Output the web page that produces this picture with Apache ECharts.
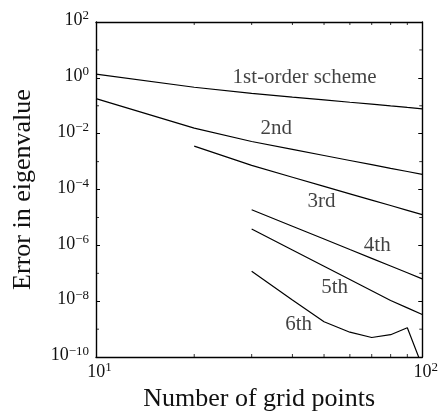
<!DOCTYPE html>
<html><head><meta charset="utf-8">
<script src="https://cdn.jsdelivr.net/npm/echarts@6/dist/echarts.min.js"></script>
<style>html,body{margin:0;padding:0;background:#fff}#c{width:441px;height:417px}</style>
</head><body><div id="c"></div>
<script>
// ---- data ----
const gridPoints = [10, 20, 30, 40, 50, 60, 70, 80, 90, 100];
const order1 = [1.35, 0.46, 0.28, 0.205, 0.163, 0.134, 0.114, 0.0985, 0.087, 0.078];
const order2 = [0.181, 0.0158, 0.00526, 0.00275, 0.00166, 0.00110, 0.000778, 0.000575, 0.000442, 0.000347];
const order3 = [null, 0.0036, 0.00073, 0.000276, 0.00013, 0.0000703, 0.000042, 0.0000268, 0.000018, 0.0000126];
const order4 = [null, null, 1.9e-5, 4.85e-6, 1.69e-6, 7.1e-7, 3.44e-7, 1.83e-7, 1.045e-7, 6.3e-8];
const order5 = [null, null, 3.87e-6, 6.86e-7, 1.79e-7, 5.97e-8, 2.36e-8, 1.06e-8, 5.8e-9, 3.35e-9];
const order6 = [null, null, 1.18e-7, 1.10e-8, 1.85e-9, 7.8e-10, 5.04e-10, 6.34e-10, 1.12e-9, 4.7e-11];
const curveLabels = ['1st-order scheme', '2nd', '3rd', '4th', '5th', '6th'];
const curveLabelN = [43.6, 35.7, 49.1, 72.8, 53.9, 41.8];
const curveLabelErr = [1.0, 0.0149, 3.76e-5, 9.8e-7, 3.0e-8, 1.47e-9];
const xMinorTicks = [20, 30, 40, 50, 60, 70, 80, 90];
const yMinorTicks = [1e1, 1e-1, 1e-3, 1e-5, 1e-7, 1e-9];
const xRange = [10, 100];
const yRange = [1e-10, 1e2];
const xTitle = 'Number of grid points';
const yTitle = 'Error in eigenvalue';

// ---- chart ----
const SERIF = 'Liberation Serif';
const TXT = '#111';
const rich = {
  b: { fontFamily: SERIF, fontSize: 18, lineHeight: 22, color: TXT },
  s: { fontFamily: SERIF, fontSize: 13, lineHeight: 10, verticalAlign: 'top', color: TXT }
};
function powLabel(v) {
  const e = Math.round(Math.log10(v));
  return '{b|10}{s|' + (e < 0 ? '\u2212' + (-e) : e) + '}';
}
function pairs(vals) {
  const out = [];
  gridPoints.forEach((n, i) => { if (vals[i] != null) out.push([n, vals[i]]); });
  return out;
}
const lineStyle = { color: '#000', width: 1.2 };
const curves = [order1, order2, order3, order4, order5, order6].map(v => ({
  type: 'line', data: pairs(v), symbol: 'none', lineStyle: lineStyle,
  clip: true, silent: true, animation: false
}));
const axisLine = { show: true, lineStyle: { color: '#000', width: 1.4 } };
const tickMaj = { show: true, inside: true, length: 4, lineStyle: { color: '#000', width: 1 } };
const labelBase = { fontFamily: SERIF, fontSize: 18, color: TXT, rich: rich, formatter: powLabel };

const option = {
  animation: false,
  backgroundColor: '#fff',
  grid: { left: 96, right: 14, top: 22, bottom: 59 },
  xAxis: [
    { type: 'log', logBase: 10, min: xRange[0], max: xRange[1], interval: 1, position: 'bottom',
      axisLine: axisLine, axisTick: tickMaj, splitLine: { show: false }, minorTick: { show: false },
      axisLabel: Object.assign({ margin: 4, padding: [0, 0, 0, 7] }, labelBase),
      name: xTitle, nameLocation: 'middle', nameGap: 22,
      nameTextStyle: { fontFamily: SERIF, fontSize: 26, color: TXT } },
    { type: 'log', logBase: 10, min: xRange[0], max: xRange[1], interval: 1, position: 'top',
      axisLine: axisLine, axisTick: tickMaj, axisLabel: { show: false }, splitLine: { show: false } }
  ],
  yAxis: [
    { type: 'log', logBase: 10, min: yRange[0], max: yRange[1], interval: 2, position: 'left',
      axisLine: axisLine, axisTick: tickMaj, splitLine: { show: false },
      axisLabel: Object.assign({ margin: 7, padding: [0, 0, 3, 0] }, labelBase),
      name: yTitle, nameLocation: 'middle', nameGap: 60, nameRotate: 90,
      nameTextStyle: { fontFamily: SERIF, fontSize: 26, color: TXT } },
    { type: 'log', logBase: 10, min: yRange[0], max: yRange[1], interval: 2, position: 'right',
      axisLine: axisLine, axisTick: tickMaj, axisLabel: { show: false }, splitLine: { show: false } }
  ],
  series: curves.concat([
    { type: 'scatter', clip: false, silent: true, symbol: 'rect', symbolSize: [1, 3], symbolOffset: [0, -1.5],
      itemStyle: { color: '#000' }, data: xMinorTicks.map(n => [n, yRange[0]]) },
    { type: 'scatter', clip: false, silent: true, symbol: 'rect', symbolSize: [1, 3], symbolOffset: [0, 1.5],
      itemStyle: { color: '#000' }, data: xMinorTicks.map(n => [n, yRange[1]]) },
    { type: 'scatter', clip: false, silent: true, symbol: 'rect', symbolSize: [3, 1], symbolOffset: [1.5, 0],
      itemStyle: { color: '#000' }, data: yMinorTicks.map(v => [xRange[0], v]) },
    { type: 'scatter', clip: false, silent: true, symbol: 'rect', symbolSize: [3, 1], symbolOffset: [-1.5, 0],
      itemStyle: { color: '#000' }, data: yMinorTicks.map(v => [xRange[1], v]) },
    { type: 'scatter', silent: true, symbolSize: 1, itemStyle: { color: 'rgba(0,0,0,0)' },
      data: curveLabels.map((t, i) => ({ name: t, value: [curveLabelN[i], curveLabelErr[i]] })),
      label: { show: true, position: 'inside', formatter: '{b}', fontFamily: SERIF, fontSize: 21, color: TXT } }
  ])
};
const chart = echarts.init(document.getElementById('c'), null, { renderer: 'canvas' });
chart.setOption(option);
</script>
</body></html>
